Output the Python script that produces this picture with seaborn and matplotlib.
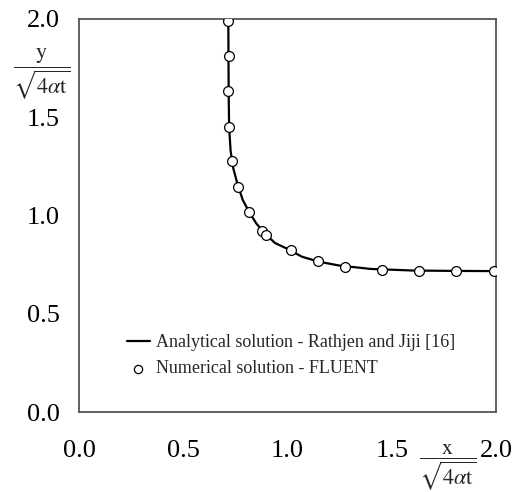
import matplotlib
matplotlib.use("Agg")
import matplotlib.pyplot as plt
import seaborn as sns
import pandas as pd

# Analytical solution (line)
line_x = [0.716, 0.717, 0.718, 0.720, 0.727, 0.740, 0.760, 0.785, 0.815, 0.850,
          0.890, 0.940, 1.000, 1.070, 1.150, 1.250, 1.400, 1.600, 1.800, 2.000]
line_y = [2.000, 1.800, 1.600, 1.450, 1.330, 1.240, 1.160, 1.080, 1.020, 0.960,
          0.910, 0.860, 0.830, 0.790, 0.765, 0.745, 0.728, 0.720, 0.718, 0.717]

# Numerical solution (FLUENT) points
num_x = [0.716, 0.718, 0.716, 0.719, 0.735, 0.763, 0.814, 0.880, 0.895,
         1.015, 1.145, 1.276, 1.455, 1.631, 1.808, 1.989]
num_y = [1.988, 1.810, 1.632, 1.450, 1.276, 1.147, 1.019, 0.920, 0.900,
         0.824, 0.768, 0.740, 0.723, 0.719, 0.719, 0.719]

xticks = [0.0, 0.5, 1.0, 1.5, 2.0]
yticks = [0.0, 0.5, 1.0, 1.5, 2.0]

label_line = "Analytical solution - Rathjen and Jiji [16]"
label_pts = "Numerical solution - FLUENT"

sns.set_style("white")
plt.rcParams['font.family'] = ['Liberation Serif', 'DejaVu Serif']
plt.rcParams['mathtext.fontset'] = 'stix'

fig = plt.figure(figsize=(5.14, 4.92), dpi=100)
ax = fig.add_axes([0.1537, 0.1626, 0.965 - 0.1537, 0.9614 - 0.1626])

df_line = pd.DataFrame({"x": line_x, "y": line_y})
df_pts = pd.DataFrame({"x": num_x, "y": num_y})

sns.lineplot(data=df_line, x="x", y="y", sort=False, color="black", linewidth=1.6,
             ax=ax, label=label_line)
sns.scatterplot(data=df_pts, x="x", y="y", marker="o", s=50, facecolor="white",
                edgecolor="black", linewidth=0.9, ax=ax, label=label_pts, zorder=5)

ax.set_xlim(0, 2.0)
ax.set_ylim(0, 2.0)
ax.set_xticks(xticks)
ax.set_yticks(yticks)
ax.set_xticklabels([f"{v:.1f}" for v in xticks])
ax.set_yticklabels([f"{v:.1f}" for v in yticks])
ax.tick_params(axis='both', direction='in', length=7, width=0.8, color='#dddddd',
               labelsize=19, labelcolor='black')
ax.tick_params(axis='x', pad=20)
ax.tick_params(axis='y', pad=14)
ax.set_xlabel("")
ax.set_ylabel("")

for sp in ax.spines.values():
    sp.set_color('#555555')
    sp.set_linewidth(1.3)

ax.text(-0.09, 0.86, r'$\dfrac{\mathrm{y}}{\sqrt{4\alpha \mathrm{t}}}$', transform=ax.transAxes,
        ha='center', va='center', fontsize=16)
ax.text(0.885, -0.14, r'$\dfrac{\mathrm{x}}{\sqrt{4\alpha \mathrm{t}}}$', transform=ax.transAxes,
        ha='center', va='center', fontsize=16)

leg = ax.legend(loc='lower left', bbox_to_anchor=(0.075, 0.047), frameon=False,
                fontsize=13, handlelength=1.3, handletextpad=0.35, labelspacing=0.5)
leg.legend_handles[1].set_sizes([35])

fig.savefig("out.png", dpi=100)
